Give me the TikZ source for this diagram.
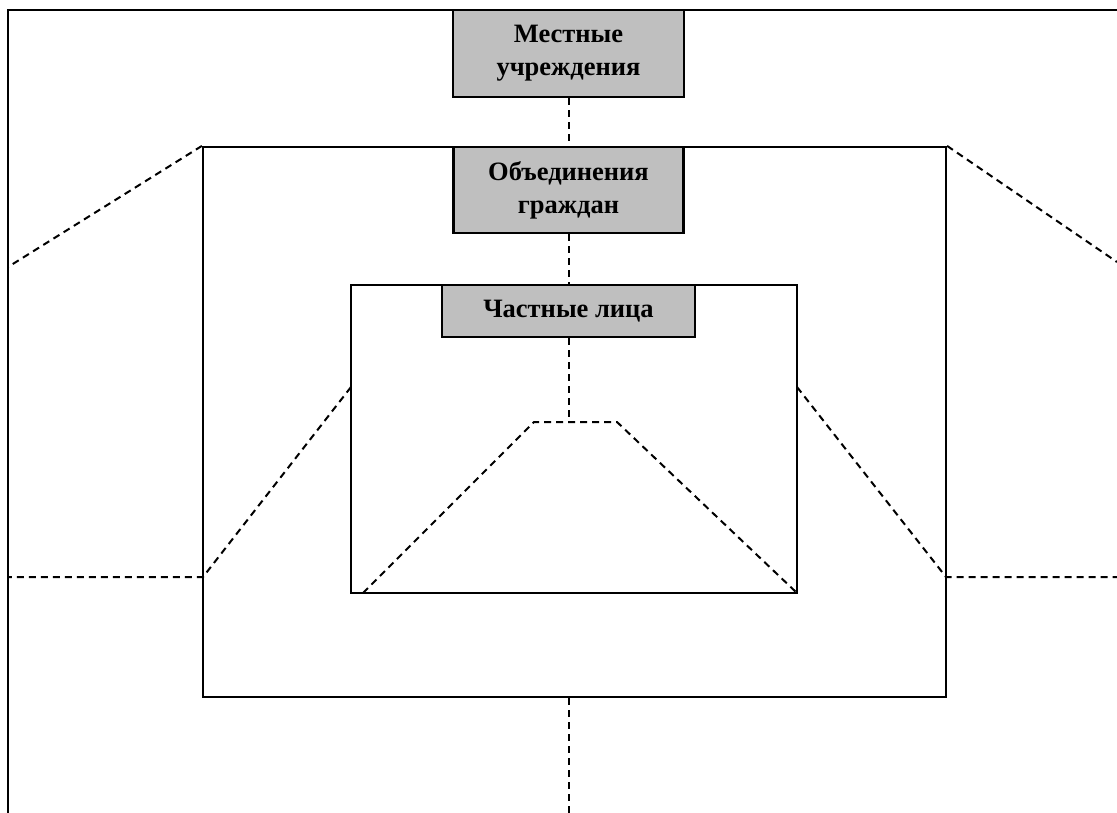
\documentclass[tikz,border=0pt]{standalone}
\usepackage{fontspec}
\setmainfont{Liberation Serif}
\begin{document}
\begin{tikzpicture}[x=1pt,y=-1pt,
  frame/.style={draw=black,line width=2.2pt},
  dsh/.style={draw=black,line width=2pt,dash pattern=on 7pt off 5pt},
  lbl/.style={draw=black,line width=2.6pt,fill=black!25,inner sep=0pt,align=center,
    font=\bfseries\fontsize{26.5}{33}\selectfont}]
\useasboundingbox (0,0) rectangle (1117,813);
% outer frame (partly visible)
\coordinate (obl) at (8,813);
\coordinate (otl) at (8,10);
\coordinate (otr) at (1117,10);
\draw[frame] (obl) -- (otl) -- (otr);
% middle and inner rectangles
\node[frame,minimum width=743pt,minimum height=550pt,inner sep=0pt] (mid) at (574.5,422) {};
\node[frame,minimum width=446pt,minimum height=308pt,inner sep=0pt] (inn) at (574,439) {};
% dashed connectors
\coordinate (lu) at (8,267);
\coordinate (ru) at (1117,262);
\coordinate (ll) at (8,577);
\coordinate (rl) at (1117,577);
\coordinate (ml) at (203,577);
\coordinate (mr) at (946,577);
\coordinate (il) at (351,387);
\coordinate (ir) at (797,387);
\coordinate (tbl) at (363,593);
\coordinate (ttl) at (534,422);
\coordinate (ttm) at (568.5,422);
\coordinate (ttr) at (617,422);
\coordinate (tbr) at (797,593);
\coordinate (bot) at (568.5,813);
\draw[dsh] (mid.north west) -- (lu);
\draw[dsh] (mid.north east) -- (ru);
\draw[dsh] (il) -- (ml) -- (ll);
\draw[dsh] (ir) -- (mr) -- (rl);
\draw[dsh] (tbl) -- (ttl) -- (ttr) -- (tbr);
\draw[dsh] (mid.south -| bot) -- (bot);
% label boxes
\node[lbl,minimum width=231pt,minimum height=87pt] (loc) at (568.5,53.5) {Местные\\учреждения};
\node[lbl,minimum width=230pt,minimum height=86pt] (obj) at (568.5,190) {Объединения\\граждан};
\node[lbl,minimum width=253pt,minimum height=52pt] (prv) at (568.5,311) {Частные лица};
\draw[dsh] (loc.south) -- (obj.north);
\draw[dsh] (obj.south) -- (prv.north);
\draw[dsh] (prv.south) -- (ttm);
\end{tikzpicture}
\end{document}
